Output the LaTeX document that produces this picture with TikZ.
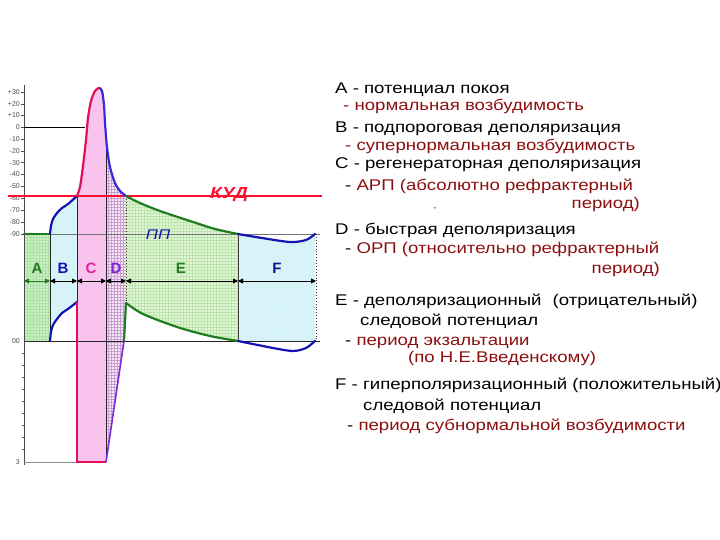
\documentclass[tikz,border=0pt]{standalone}
\usepackage{fontspec}
\setmainfont{Liberation Sans}
\newfontfamily\legfont[FakeStretch=1.2]{Liberation Sans}
\usetikzlibrary{arrows.meta,patterns}
\definecolor{fillA}{HTML}{C8F0C4}
\definecolor{gridA}{HTML}{B0E0A8}
\definecolor{fillB}{HTML}{D4F6FA}
\definecolor{gridB}{HTML}{C0E8EC}
\definecolor{fillC}{HTML}{F8C4EE}
\definecolor{fillD}{HTML}{F6E6F6}
\definecolor{gridD}{HTML}{C8A0D0}
\definecolor{fillE}{HTML}{E2F8D8}
\definecolor{gridE}{HTML}{BCE4AC}
\definecolor{cgreen}{HTML}{1E7D1E}
\definecolor{cblue}{HTML}{1414B4}
\definecolor{crims}{HTML}{E0105A}
\definecolor{sblue}{HTML}{3C28DC}
\definecolor{cpurp}{HTML}{7A28D8}
\definecolor{kud}{HTML}{FF1030}
\definecolor{tred}{HTML}{8C0F0F}
\definecolor{lC}{HTML}{E020A0}
\definecolor{lD}{HTML}{8020D0}
% coordinate lists
\def\cBtop{(50,234)(51,226)(53,219)(57,213)(62,208)(68,204)(77,196)}
\def\cBbot{(77,302)(68,309)(62,313)(57,319)(53,325)(51,332)(50,341)}
\def\cSpike{(77,196)(80,187)(83,166)(86,140)(88,118)(91,101)(95,91)(99,88)(102,91)(104,105)(105,123)(107,147)(110,167)(115,183)(120,191)(126,196)}
\def\cEtop{(126,196)(140,203)(160,211)(193,222)(215,229)(238,234)}
\def\cEbot{(238,341)(210,336)(177,327)(143,314)(126,303)}
\def\cFtop{(238,234)(262,238)(290,242)(306,240)(315,234)}
\def\cFbot{(238,341)(273,348)(293,351)(306,348)(315,341)}
\edef\pBtop{plot[smooth] coordinates{\cBtop}}
\edef\pBbot{plot[smooth] coordinates{\cBbot}}
\edef\pBbotL{-- plot[smooth] coordinates{\cBbot}}
\edef\pSpike{plot[smooth] coordinates{\cSpike}}
\edef\pEtop{plot[smooth] coordinates{\cEtop}}
\edef\pEbot{plot[smooth] coordinates{\cEbot}}
\edef\pEbotL{-- plot[smooth] coordinates{\cEbot}}
\edef\pFtop{plot[smooth] coordinates{\cFtop}}
\edef\pFbot{plot[smooth] coordinates{\cFbot}}
\tikzset{
  curve/.style={line width=2.2pt, line cap=round, line join=round},
  border/.style={line width=0.9pt, draw=black!85},
  dborder/.style={line width=0.9pt, draw=black!80, dotted},
  span/.style={line width=0.9pt, {Triangle[length=5pt,width=5pt]}-{Triangle[length=5pt,width=5pt]}},
  seglab/.style={font=\bfseries\fontsize{15}{15}\selectfont},
  txt/.style={anchor=base west, font=\legfont\fontsize{15.5}{18}\selectfont, inner sep=0pt},
  txte/.style={anchor=base east, font=\legfont\fontsize{15.5}{18}\selectfont, inner sep=0pt},
  axl/.style={anchor=east, font=\fontsize{7}{7}\selectfont, text=black!70, inner sep=1pt}
}
\begin{document}
\begin{tikzpicture}[x=1pt,y=-1pt]
\useasboundingbox (0,0) rectangle (720,540);
% ---------- region fills ----------
\fill[fillA] (24,234) rectangle (50,341);
\fill[pattern=grid, pattern color=gridA] (24,234) rectangle (50,341);
\fill[fillB] \pBtop \pBbotL -- cycle;
\fill[pattern=grid, pattern color=gridB!60] \pBtop \pBbotL -- cycle;
\begin{scope}
  \clip (77,0) rectangle (106,540);
  \fill[fillC] \pSpike -- (126,462) -- (77,462) -- cycle;
\end{scope}
\begin{scope}
  \clip (106,0) rectangle (126.5,540);
  \fill[fillD] \pSpike -- (126,302) -- (124,341) -- (106,462) -- (77,462) -- cycle;
  \fill[pattern=grid, pattern color=gridD] \pSpike -- (126,302) -- (124,341) -- (106,462) -- (77,462) -- cycle;
\end{scope}
\fill[fillE] \pEtop \pEbotL -- cycle;
\fill[pattern=grid, pattern color=gridE] \pEtop \pEbotL -- cycle;
\fill[fillB] \pFtop -- (315,341) -- (238,341) -- cycle;
\fill[pattern=grid, pattern color=gridB!60] \pFtop -- (315,341) -- (238,341) -- cycle;
% ---------- axis ----------
\draw[black!70, line width=0.6pt] (24,85) -- (24,465);
\foreach \v/\yy in {+30/92,+20/104,+10/115.5,0/127.3,-10/139,-20/151,-30/162.7,-40/174.5,-50/186,-60/198,-70/210,-80/222,-90/234}{
  \draw[black!70, line width=0.5pt] (21,\yy) -- (24,\yy);
  \node[axl] at (21,\yy) {\v};
}
\foreach \yy in {353,365,377,389,401,413,425,437,449}{
  \draw[black!60, line width=0.5pt] (21.5,\yy) -- (24,\yy);
}
\node[axl] (l100) at (21,341) {00};
\node[axl] (l0) at (21,462) {3};
% ---------- reference lines ----------
\draw[black, line width=0.7pt] (24,127.3) -- (85,127.3);
\draw[black!55, line width=0.8pt] (24,234) -- (320,234);
\draw[black!85, line width=0.8pt] (24,341) -- (320,341);
\draw[black!45, line width=0.6pt] (24,462) -- (77,462);
% ---------- borders ----------
\draw[border] (50,234) -- (50,341);
\draw[border] (77,196) -- (77,302);
\draw[border] (106,135) -- (106,462);
\draw[dborder] (126,196) -- (126,302);
\draw[border, draw=black!75] (238,234) -- (238,341);
\draw[dborder] (316,234) -- (316,341);
% ---------- threshold line ----------
\draw[kud, line width=1.3pt] (8,196) -- (322,196);
\node[font=\legfont\bfseries\itshape\fontsize{16}{16}\selectfont, text=kud, inner sep=1pt] (kudlab) at (229,195) {КУД};
\node[font=\legfont\itshape\fontsize{14}{14}\selectfont, text=cblue, inner sep=1pt] (pplab) at (158,235) {ПП};
% ---------- curves ----------
\draw[curve, cgreen] (24,234) -- (50,234);
\draw[curve, cblue] \pBtop;
\draw[curve, cblue] \pBbot;
\begin{scope}
  \clip (70,0) rectangle (99,540);
  \draw[curve, crims] \pSpike;
\end{scope}
\begin{scope}
  \clip (99,0) rectangle (140,540);
  \draw[curve, sblue] \pSpike;
\end{scope}
\draw[curve, cgreen] \pEtop;
\draw[curve, cgreen] \pEbot;
\draw[curve, cgreen] (124,341) -- (126,303);
\draw[curve, cpurp, line width=1.6pt] (106,462) -- (124,341);
\draw[crims, line width=1.8pt] (77,302) -- (77,462) -- (106,462);
\draw[curve, cblue] \pFtop;
\draw[curve, cblue] \pFbot;
% ---------- segment labels and spans ----------
\coordinate (s0) at (24,281);
\coordinate (s1) at (50,281);
\coordinate (s2) at (77,281);
\coordinate (s3) at (106,281);
\coordinate (s4) at (126,281);
\coordinate (s5) at (238,281);
\coordinate (s6) at (316,281);
\draw[span, cgreen] (s0) -- (s1);
\draw[span] (s1) -- (s2);
\draw[span] (s2) -- (s3);
\draw[span] (s3) -- (s4);
\draw[span] (s4) -- (s5);
\draw[span] (s5) -- (s6);
\node[seglab, text=cgreen] (lA) at (37,268) {A};
\node[seglab, text=cblue] (lB) at (63,268) {B};
\node[seglab, text=lC] (lC) at (91,268) {C};
\node[seglab, text=lD] (lD) at (116,268) {D};
\node[seglab, text=cgreen] (lE) at (181,268) {E};
\node[seglab, text=cblue!80!black] (lF) at (277,268) {F};
% ---------- legend text ----------
\node[txt] (t1) at (335,94) {А - потенциал покоя};
\node[txt, text=tred] (t2) at (343,110.5) {- нормальная возбудимость};
\node[txt] (t3) at (335,133) {В - подпороговая деполяризация};
\node[txt, text=tred] (t4) at (345,151) {- супернормальная возбудимость};
\node[txt] (t5) at (335,169) {С - регенераторная деполяризация};
\node[txt] (t6) at (345,191) {- {\color{tred}АРП (абсолютно рефрактерный}};
\node[txte, text=tred] (t7) at (640,209) {период)};
\node[font=\fontsize{8}{8}\selectfont, inner sep=0pt] (t7b) at (435,209) {-};
\node[txt] (t8) at (335,234) {D - быстрая деполяризация};
\node[txt] (t9) at (345,254) {- {\color{tred}ОРП (относительно рефрактерный}};
\node[txte, text=tred] (t10) at (660,273) {период)};
\node[txt] (t11) at (335,305) {E - деполяризационный \hspace{6pt}(отрицательный)};
\node[txt] (t12) at (360,325) {следовой потенциал};
\node[txt] (t13) at (345,345) {- {\color{tred}период экзальтации}};
\node[txt, text=tred] (t14) at (408,362) {(по Н.Е.Введенскому)};
\node[txt] (t15) at (335,389) {F - гиперполяризационный (положительный)};
\node[txt] (t16) at (363,410) {следовой потенциал};
\node[txt] (t17) at (347,430) {- {\color{tred}период субнормальной возбудимости}};
\end{tikzpicture}
\end{document}
